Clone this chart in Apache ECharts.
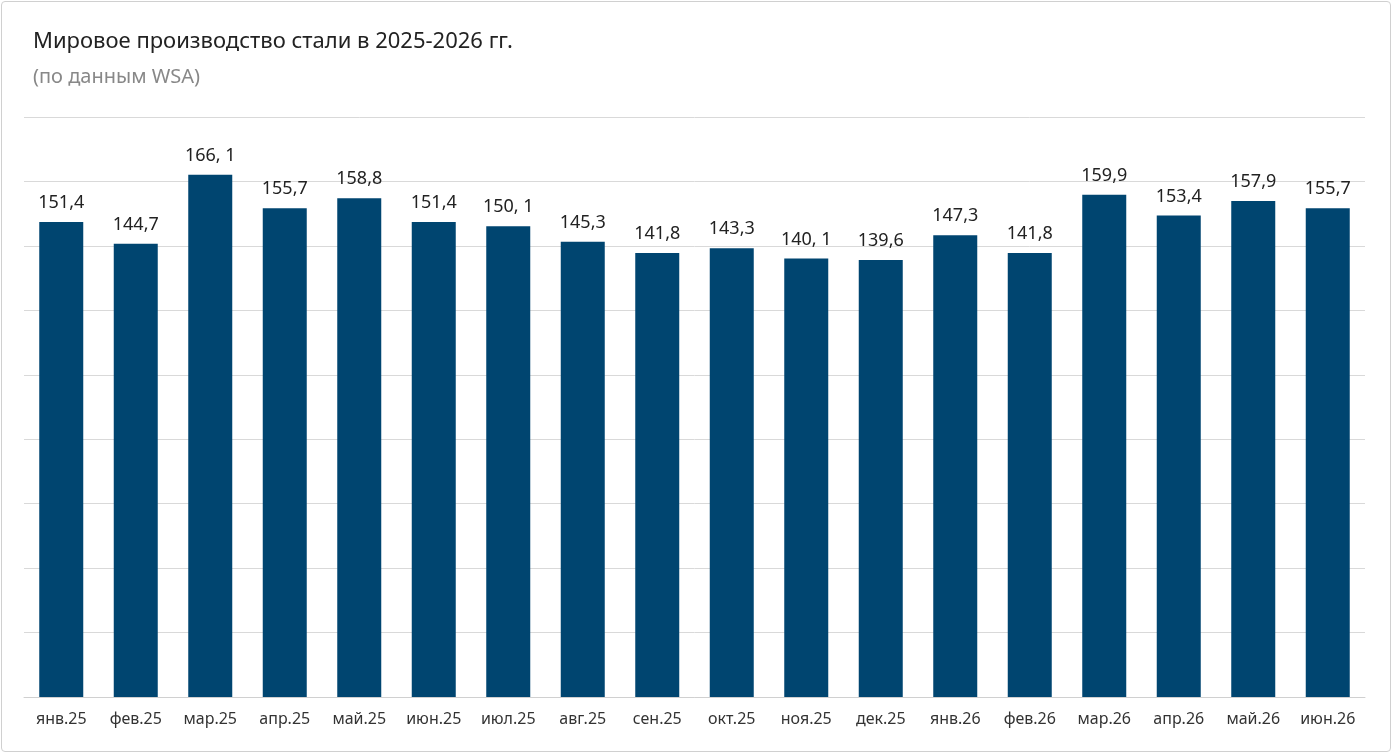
<!DOCTYPE html>
<html><head><meta charset="utf-8">
<script src="https://cdn.jsdelivr.net/npm/echarts@6/dist/echarts.min.js"></script>
<style>html,body{margin:0;padding:0;background:#fff}
#c{position:absolute;left:1px;top:1px;width:1390px;height:751px;border:1px solid #d0d0d0;border-radius:4px;box-sizing:border-box}</style>
</head><body><div id="c"></div>
<script>
var categories = ['янв.25','фев.25','мар.25','апр.25','май.25','июн.25','июл.25','авг.25','сен.25','окт.25','ноя.25','дек.25','янв.26','фев.26','мар.26','апр.26','май.26','июн.26']
var values = [151.4,144.7,166.1,155.7,158.8,151.4,150.1,145.3,141.8,143.3,140.1,139.6,147.3,141.8,159.9,153.4,157.9,155.7]
var labels = ['151,4','144,7','166, 1','155,7','158,8','151,4','150, 1','145,3','141,8','143,3','140, 1','139,6','147,3','141,8','159,9','153,4','157,9','155,7']

var chart = echarts.init(document.getElementById('c'))
chart.setOption({
  animation: false,
  title: {
    text: 'Мировое производство стали в 2025-2026 гг.',
    subtext: '(по данным WSA)',
    left: 26, top: 24, itemGap: 14,
    textStyle: {fontFamily: 'Noto Sans', fontWeight: 'normal', fontSize: 22, color: '#222'},
    subtextStyle: {fontFamily: 'Noto Sans', fontSize: 20, color: '#888'}
  },
  grid: {left: 22, right: 25, top: 115, bottom: 54},
  xAxis: {
    type: 'category', data: categories,
    axisTick: {show: false},
    axisLine: {lineStyle: {color: '#d0d0d0'}},
    axisLabel: {fontFamily: 'Noto Sans', fontSize: 16, color: '#333', margin: 14}
  },
  yAxis: {
    type: 'value', min: 4, max: 184, interval: 20,
    axisLabel: {show: false},
    splitLine: {lineStyle: {color: '#d9d9d9'}}
  },
  series: [{
    type: 'bar', data: values, barWidth: 44,
    itemStyle: {color: '#004570'},
    label: {
      show: true, position: 'top', distance: 10,
      fontFamily: 'Noto Sans', fontSize: 18, color: '#222',
      formatter: function (p) { return labels[p.dataIndex] }
    }
  }]
})
</script></body></html>
